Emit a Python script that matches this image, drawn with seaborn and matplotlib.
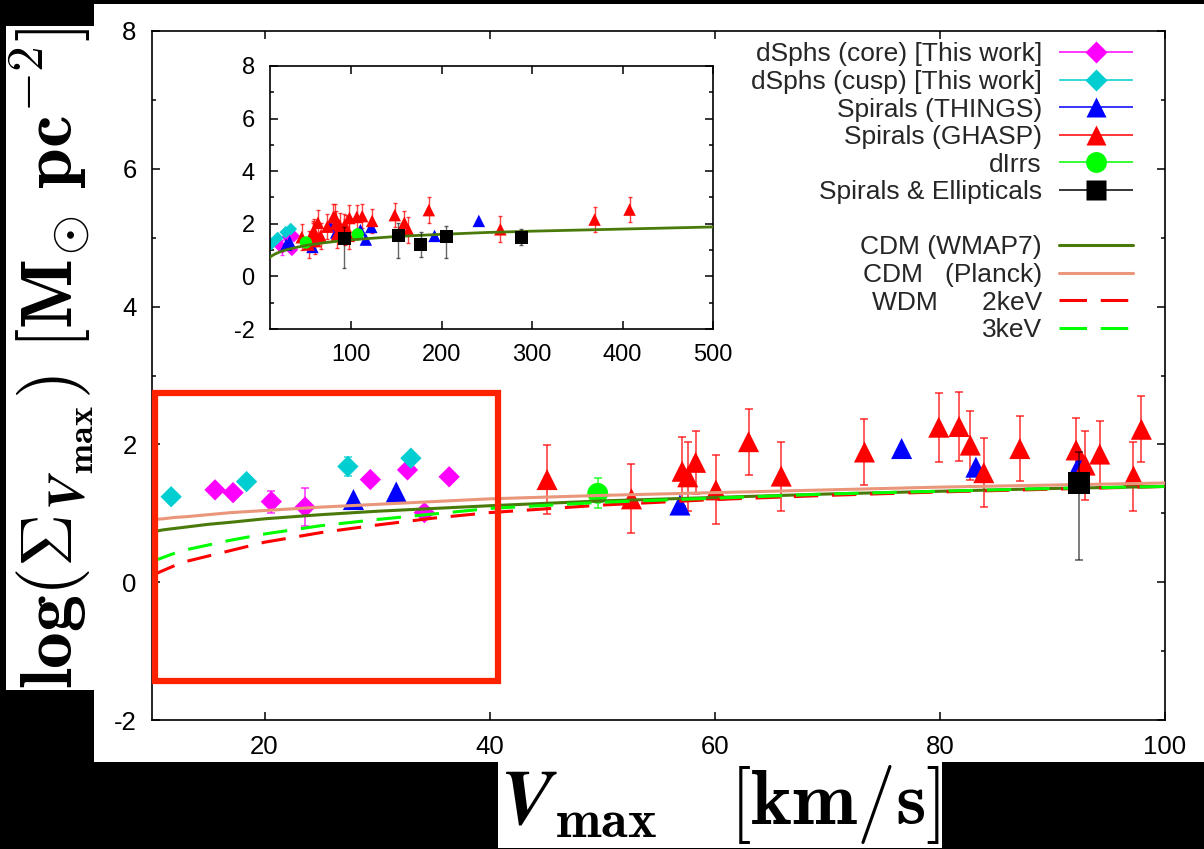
import numpy as np
import matplotlib
matplotlib.use("Agg")
import matplotlib.pyplot as plt
from matplotlib.patches import Rectangle
from matplotlib.lines import Line2D
from matplotlib.container import ErrorbarContainer
from matplotlib.legend_handler import HandlerErrorbar
import seaborn as sns

# ---------------- data ----------------
core_v = [15.6, 17.2, 20.6, 23.6, 29.4, 32.7, 34.2, 36.4]
core_s = [1.34, 1.30, 1.17, 1.09, 1.49, 1.63, 1.01, 1.53]
core_err = [0.05, 0.05, 0.16, 0.28, 0.05, 0.06, 0.05, 0.05]

cusp_v = [11.7, 18.4, 27.4, 33.0]
cusp_s = [1.24, 1.46, 1.68, 1.80]
cusp_err = [0.05, 0.06, 0.14, 0.06]

things_v = [27.9, 31.7, 56.9, 76.6, 83.2, 92.4, 110, 116, 122, 192, 241]
things_s = [1.20, 1.31, 1.12, 1.94, 1.67, 1.71, 1.76, 1.40, 1.88, 1.54, 2.11]

ghasp_v = [45.1, 52.6, 57.1, 57.6, 58.3, 60.1, 63.0, 65.9, 73.3, 79.9, 81.7, 82.7,
           83.9, 87.1, 92.1, 92.9, 94.2, 97.2, 97.9, 106, 112, 123, 148, 158.6,
           163, 185.7, 264.8, 369, 407.7]
ghasp_s = [1.49, 1.21, 1.61, 1.53, 1.74, 1.34, 2.04, 1.54, 1.89, 2.25, 2.26, 1.99,
           1.59, 1.94, 1.92, 1.70, 1.86, 1.54, 2.22, 2.26, 2.29, 2.11, 2.33, 2.04,
           1.76, 2.52, 1.79, 2.16, 2.54]
ghasp_err = [0.50, 0.50, 0.50, 0.50, 0.46, 0.50, 0.48, 0.50, 0.48, 0.50, 0.50, 0.50,
             0.50, 0.47, 0.47, 0.50, 0.48, 0.50, 0.48, 0.45, 0.45, 0.45, 0.47, 0.45,
             0.50, 0.49, 0.50, 0.49, 0.49]

dirr_v = [49.6, 107]
dirr_s = [1.29, 1.60]
dirr_err = [0.22, 0.05]

se_v = [92.4, 152, 177, 205, 288]
se_s = [1.44, 1.54, 1.22, 1.50, 1.48]
se_err_lo = [1.12, 0.85, 0.50, 0.79, 0.30]
se_err_hi = [0.45, 0.48, 0.47, 0.42, 0.34]

model_v = [10, 11, 12, 13, 15, 17, 20, 25, 30, 35, 40, 50, 60, 70, 80, 90, 100]
wmap7 = [0.73, 0.76, 0.78, 0.80, 0.84, 0.87, 0.92, 0.98, 1.03, 1.07, 1.11, 1.18,
         1.23, 1.28, 1.32, 1.36, 1.39]
planck = [0.91, 0.92, 0.94, 0.95, 0.98, 1.01, 1.04, 1.09, 1.13, 1.17, 1.21, 1.26,
          1.30, 1.34, 1.38, 1.41, 1.44]
wdm3 = [0.30, 0.36, 0.42, 0.47, 0.54, 0.61, 0.70, 0.82, 0.91, 0.99, 1.07, 1.16,
        1.22, 1.28, 1.32, 1.36, 1.39]
wdm2 = [0.10, 0.17, 0.24, 0.30, 0.38, 0.46, 0.58, 0.72, 0.83, 0.93, 1.01, 1.12,
        1.20, 1.26, 1.31, 1.35, 1.39]
wmap7_wide_v = [10, 12, 15, 20, 25, 30, 40, 50, 60, 70, 80, 90, 100, 150, 200,
                250, 300, 350, 400, 450, 500]
wmap7_wide = [0.73, 0.78, 0.84, 0.92, 0.98, 1.03, 1.11, 1.18, 1.23, 1.28, 1.32,
              1.36, 1.39, 1.52, 1.60, 1.67, 1.72, 1.76, 1.80, 1.84, 1.88]

xticks_main = [20, 40, 60, 80, 100]
xticks_inset = [100, 200, 300, 400, 500]
yticks = [-2, 0, 2, 4, 6, 8]

labels_pts = ["dSphs (core) [This work]", "dSphs (cusp) [This work]",
              "Spirals (THINGS)", "Spirals (GHASP)", "dIrrs", "Spirals & Ellipticals"]
labels_lines = ["CDM (WMAP7)", "CDM   (Planck)", "WDM      2keV", "3keV"]

# ---------------- style ----------------
sns.set_style("ticks")
plt.rcParams['font.family'] = ['Liberation Sans', 'DejaVu Sans']
plt.rcParams['mathtext.fontset'] = 'cm'

C_MAG = "#FF00FF"
C_CYAN = "#00CED1"
C_BLUE = "#0000FF"
C_RED = "#FF0000"
C_GREEN = "#00FF00"
C_BLACK = "#000000"
C_WMAP = "#4A7B0A"
C_PLANCK = "#E9967A"

fig = plt.figure(figsize=(12.04, 8.49), dpi=100, facecolor="black")
bg = Rectangle((94 / 1204, 87 / 849), 1.0, 758 / 849,
               transform=fig.transFigure, facecolor="white",
               edgecolor="none", zorder=-10)
fig.patches.append(bg)

ax = fig.add_axes([152 / 1204, 129 / 849, 1013 / 1204, 689 / 849])
axi = fig.add_axes([270 / 1204, 520 / 849, 443 / 1204, 263 / 849])
ax.set_zorder(1)
axi.set_zorder(2)


def draw(a, scale, lw_err):
    groups = [
        (core_v, core_s, core_err, 'D', C_MAG, 118),
        (cusp_v, cusp_s, cusp_err, 'D', C_CYAN, 118),
        (things_v, things_s, None, '^', C_BLUE, 230),
        (ghasp_v, ghasp_s, ghasp_err, '^', C_RED, 230),
        (dirr_v, dirr_s, dirr_err, 'o', C_GREEN, 225),
    ]
    for xv, yv, err, mk, col, s in groups:
        if err is not None:
            a.errorbar(xv, yv, yerr=err, fmt='none', ecolor=col, alpha=0.75,
                       elinewidth=lw_err, capsize=2.6 * scale ** 0.5,
                       capthick=lw_err, zorder=2)
        sns.scatterplot(x=xv, y=yv, ax=a, marker=mk, color=col, s=s * scale,
                        edgecolor='none', linewidth=0, zorder=2.5, legend=False)
    a.errorbar(se_v, se_s, yerr=[se_err_lo, se_err_hi], fmt='none',
               ecolor=C_BLACK, alpha=0.6, elinewidth=lw_err,
               capsize=2.6 * scale ** 0.5, capthick=lw_err, zorder=4)
    sns.scatterplot(x=se_v, y=se_s, ax=a, marker='s', color=C_BLACK,
                    s=250 * scale, edgecolor='none', linewidth=0, zorder=4.5,
                    legend=False)


draw(ax, 1.0, 1.2)
draw(axi, 0.35, 1.0)

# model curves
sns.lineplot(x=model_v, y=wmap7, ax=ax, color=C_WMAP, linewidth=2.2, zorder=3)
sns.lineplot(x=model_v, y=planck, ax=ax, color=C_PLANCK, linewidth=2.2, zorder=3)
sns.lineplot(x=model_v, y=wdm2, ax=ax, color=C_RED, linewidth=2.2,
             linestyle=(0, (8, 4.5)), zorder=3)
sns.lineplot(x=model_v, y=wdm3, ax=ax, color=C_GREEN, linewidth=2.2,
             linestyle=(0, (8, 4.5)), zorder=3)
sns.lineplot(x=wmap7_wide_v, y=wmap7_wide, ax=axi, color=C_WMAP, linewidth=2.0,
             zorder=3)

# red highlight box
ax.add_patch(Rectangle((10.3, -1.44), 30.4, 4.19, fill=False, edgecolor="#FF2200",
                       linewidth=4.5, zorder=6, clip_on=False))

for a, xt, xl, fs in [(ax, xticks_main, (10, 100), 18.5), (axi, xticks_inset, (10, 500), 17)]:
    a.set_xlim(*xl)
    a.set_ylim(-2, 8)
    a.set_xticks(xt)
    a.set_xticklabels([str(t) for t in xt])
    a.set_yticks(yticks)
    a.set_yticklabels([str(t) for t in yticks])
    a.set_yticks([-1, 1, 3, 5, 7], minor=True)
    a.tick_params(which='both', direction='in', top=True, right=True,
                  labelsize=fs, colors='black', width=1.1)
    a.tick_params(which='major', length=6, pad=11)
    a.tick_params(which='minor', length=3)
    a.set_xlabel("")
    a.set_ylabel("")
    a.set_facecolor("white")
    for sp in a.spines.values():
        sp.set_visible(True)
        sp.set_color("black")
        sp.set_linewidth(1.2)

# legend (gnuplot style: text right-aligned, handle on the right)
proxies = []
for mk, col, ms in [('D', C_MAG, 11), ('D', C_CYAN, 11), ('^', C_BLUE, 15),
                    ('^', C_RED, 15), ('o', C_GREEN, 15), ('s', C_BLACK, 15)]:
    c = ax.errorbar([], [], xerr=[], fmt=mk, color=col, ms=ms, mec='none',
                    elinewidth=1.1, capsize=3, capthick=1.1, alpha=1)
    proxies.append(c)
blank = Line2D([], [], linestyle='none', marker=None)
line_proxies = [
    Line2D([], [], color=C_WMAP, linewidth=2.2),
    Line2D([], [], color=C_PLANCK, linewidth=2.2),
    Line2D([], [], color=C_RED, linewidth=2.2, linestyle=(0, (9, 4.5))),
    Line2D([], [], color=C_GREEN, linewidth=2.2, linestyle=(0, (9, 4.5))),
]
handles = proxies + [blank] + line_proxies
labels = labels_pts + [" "] + labels_lines
leg = ax.legend(handles, labels, loc='upper right',
                bbox_to_anchor=((1133 - 152) / 1013, 0.9835), frameon=False,
                markerfirst=False, fontsize=19, handlelength=2.8,
                handletextpad=0.65, labelspacing=0.136, borderpad=0,
                borderaxespad=0, numpoints=1,
                handler_map={ErrorbarContainer: HandlerErrorbar(xerr_size=1.4)})
leg.set_zorder(10)

# axis labels (white boxes on black background)
fig.text(52 / 1204, 1 - 358 / 849,
         r'$\mathbf{log(\Sigma}_{\mathbfit{V}_{\mathbf{max}}}\mathbf{)\ [M_{\odot}\ pc^{-2}]}$',
         rotation=90, ha='center', va='center', fontsize=53, color='black',
         bbox=dict(facecolor='white', edgecolor='none', pad=1))
fig.text(720 / 1204, 1 - 805 / 849,
         r'$\mathbfit{V}_{\mathbf{max}}\ \ \ \mathbf{[km/s]}$',
         ha='center', va='center', fontsize=56, color='black',
         bbox=dict(facecolor='white', edgecolor='none', pad=1))

fig.savefig("out.png", dpi=100, facecolor="black")
